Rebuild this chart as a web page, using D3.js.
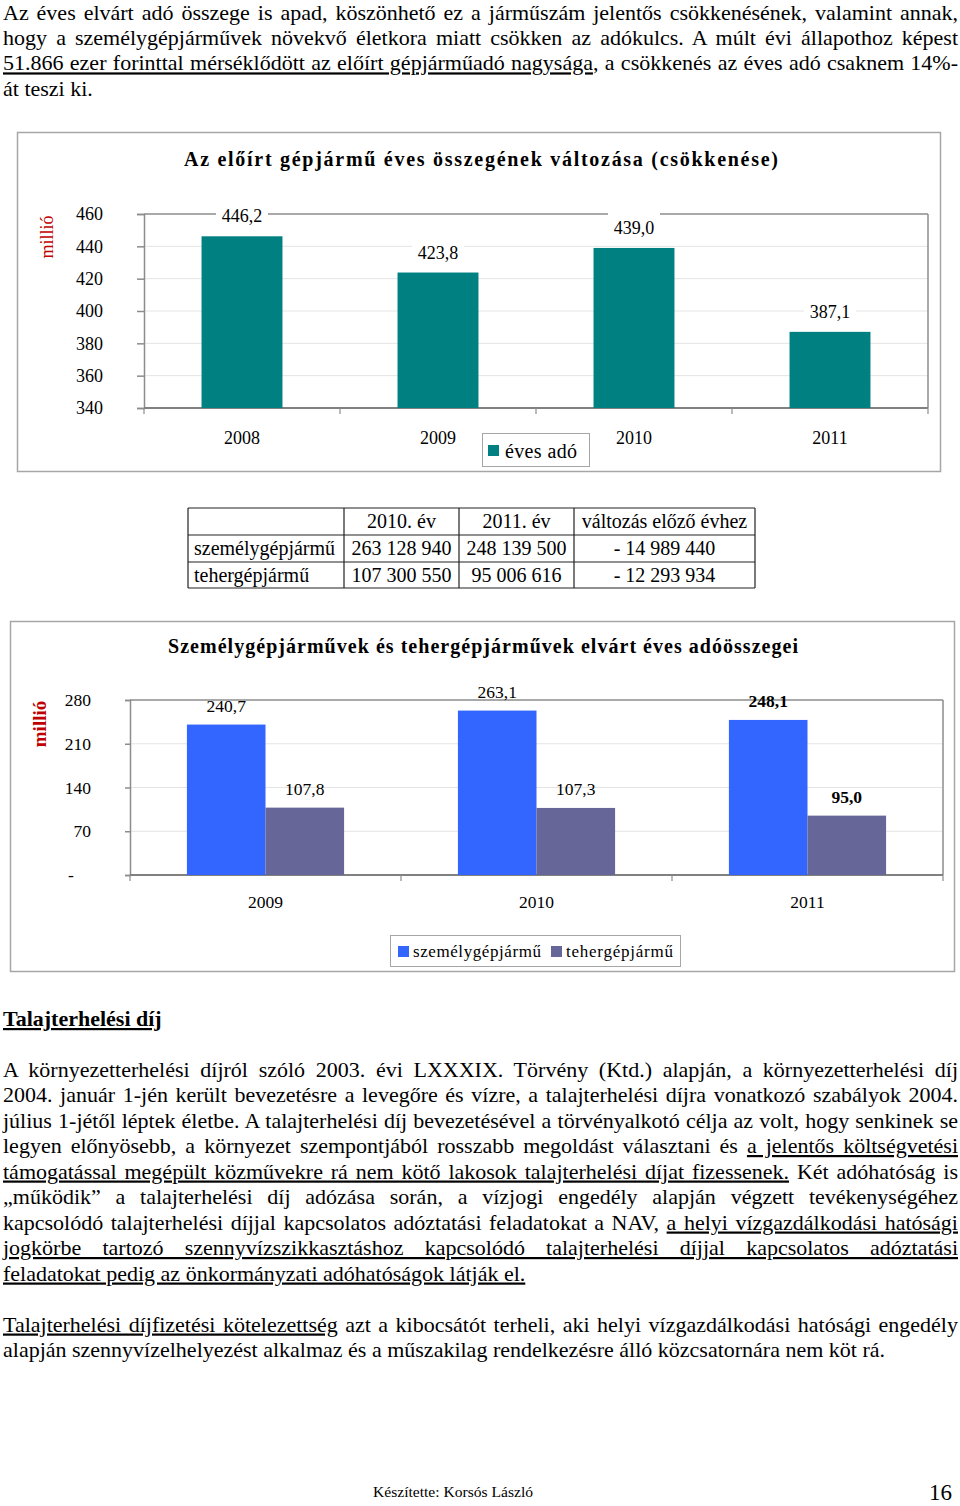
<!DOCTYPE html>
<html><head><meta charset="utf-8">
<script src="https://cdn.jsdelivr.net/npm/d3@7"></script>
<style>
html,body{margin:0;padding:0;background:#fff;}
svg{display:block;}
text{font-family:"Liberation Serif","Times New Roman",serif;fill:#000;white-space:pre;}
</style></head><body>
<svg id="page" width="960" height="1506"></svg>
<script>
// ---------- DATA ----------
const years1 = ["2008", "2009", "2010", "2011"];
const evesAdo = [446.2, 423.8, 439.0, 387.1];
const ticks1 = [340, 360, 380, 400, 420, 440, 460];
const legend1 = ["éves adó"];

const years2 = ["2009", "2010", "2011"];
const series2 = ["személygépjármű", "tehergépjármű"];
const szemely = [240.7, 263.1, 248.1];
const teher = [107.8, 107.3, 95.0];
const ticks2 = [0, 70, 140, 210, 280];
const tickLabels2 = ["-", "70", "140", "210", "280"];

const tableHead = ["", "2010. év", "2011. év", "változás előző évhez"];
const tableRowNames = ["személygépjármű", "tehergépjármű"];
const table2010 = ["263 128 940", "107 300 550"];
const table2011 = ["248 139 500", "95 006 616"];
const tableChange = ["- 14 989 440", "- 12 293 934"];

const title1 = "Az előírt gépjármű éves összegének változása (csökkenése)";
const title2 = "Személygépjárművek és tehergépjárművek elvárt éves adóösszegei";

// paragraph lines: [segments, justified]
const para1 = [
  [[["Az éves elvárt adó összege is apad, köszönhető ez a járműszám jelentős csökkenésének, valamint annak,", 0]], true],
  [[["hogy a személygépjárművek növekvő életkora miatt csökken az adókulcs. A múlt évi állapothoz képest", 0]], true],
  [[["51.866 ezer forinttal mérséklődött az előírt gépjárműadó nagysága", 1], [", a csökkenés az éves adó csaknem 14%-", 0]], true],
  [[["át teszi ki.", 0]], false]
];
const heading = "Talajterhelési díj";
const para2 = [
  [[["A környezetterhelési díjról szóló 2003. évi LXXXIX. Törvény (Ktd.) alapján, a környezetterhelési díj", 0]], true],
  [[["2004. január 1-jén került bevezetésre a levegőre és vízre, a talajterhelési díjra vonatkozó szabályok 2004.", 0]], true],
  [[["július 1-jétől léptek életbe. A talajterhelési díj bevezetésével a törvényalkotó célja az volt, hogy senkinek se", 0]], true],
  [[["legyen előnyösebb, a környezet szempontjából rosszabb megoldást választani és ", 0], ["a jelentős költségvetési", 1]], true],
  [[["támogatással megépült közművekre rá nem kötő lakosok talajterhelési díjat fizessenek.", 1], [" Két adóhatóság is", 0]], true],
  [[["„működik” a talajterhelési díj adózása során, a vízjogi engedély alapján végzett tevékenységéhez", 0]], true],
  [[["kapcsolódó talajterhelési díjjal kapcsolatos adóztatási feladatokat a NAV, ", 0], ["a helyi vízgazdálkodási hatósági", 1]], true],
  [[["jogkörbe tartozó szennyvízszikkasztáshoz kapcsolódó talajterhelési díjjal kapcsolatos adóztatási", 1]], true],
  [[["feladatokat pedig az önkormányzati adóhatóságok látják el.", 1]], false]
];
const para3 = [
  [[["Talajterhelési díjfizetési kötelezettség", 1], [" azt a kibocsátót terheli, aki helyi vízgazdálkodási hatósági engedély", 0]], true],
  [[["alapján szennyvízelhelyezést alkalmaz és a műszakilag rendelkezésre álló közcsatornára nem köt rá.", 0]], false]
];
const footerText = "Készítette: Korsós László";
const pageNo = "16";

// ---------- DRAW ----------
const svg = d3.select("#page");
const fmt = v => d3.format(".1f")(v).replace(".", ",");
const BODY = 22;

function bodyLine(x, y, segs, justify, width, size) {
  const t = svg.append("text").attr("x", x).attr("y", y).style("font-size", size + "px");
  segs.forEach(s => {
    const ts = t.append("tspan").text(s[0]);
    if (s[1]) ts.style("text-decoration", "underline");
  });
  if (justify) {
    const w = t.node().getComputedTextLength();
    const full = segs.map(s => s[0]).join("");
    const n = (full.match(/ /g) || []).length;
    if (n > 0) t.style("word-spacing", ((width - w) / n) + "px");
  }
  return t;
}
function paragraph(lines, x0, y0, lh) {
  lines.forEach((l, i) => bodyLine(x0, y0 + i * lh, l[0], l[1], 955, BODY));
}
paragraph(para1, 3, 19.8, 25.3);

// ---------- CHART 1 ----------
const c1 = svg.append("g");
c1.append("rect").attr("x", 17.5).attr("y", 132.5).attr("width", 923).attr("height", 339)
  .attr("fill", "#fff").attr("stroke", "#a6a6a6").attr("stroke-width", 1.5);
c1.append("text").attr("x", 184).attr("y", 166).attr("textLength", 594).attr("lengthAdjust", "spacing")
  .style("font-size", "20px").style("font-weight", "bold").text(title1);

const x1 = d3.scaleBand().domain(years1).range([144, 928]).paddingInner(0.587).paddingOuter(0.2935);
const y1 = d3.scaleLinear().domain([340, 460]).range([408, 214]);
const step1 = x1.step();

// gridlines
c1.append("g").selectAll("line").data(ticks1.slice(1, -1)).join("line")
  .attr("x1", 144).attr("x2", 928).attr("y1", d => y1(d)).attr("y2", d => y1(d))
  .attr("stroke", "#e4e4e4").attr("stroke-width", 1);
// frame top/right
c1.append("line").attr("x1", 144).attr("x2", 928).attr("y1", y1(460)).attr("y2", y1(460)).attr("stroke", "#8c8c8c").attr("stroke-width", 1.5);
c1.append("line").attr("x1", 928).attr("x2", 928).attr("y1", y1(460)).attr("y2", y1(340)).attr("stroke", "#8c8c8c").attr("stroke-width", 1.5);

const ax1 = c1.append("g").attr("transform", "translate(144,0)")
  .call(d3.axisLeft(y1).tickValues(ticks1).tickSize(7).tickPadding(34).tickFormat(d3.format("d")));
ax1.selectAll("path,line").attr("stroke", "#8c8c8c").attr("stroke-width", 1.5);
ax1.selectAll("text").style("font-size", "18px").attr("font-family", null).attr("fill", "#000");

// bottom axis
c1.append("line").attr("x1", 144).attr("x2", 928).attr("y1", y1(340)).attr("y2", y1(340)).attr("stroke", "#808080").attr("stroke-width", 2);
c1.append("g").selectAll("line").data(d3.range(years1.length + 1)).join("line")
  .attr("x1", i => x1.range()[0] + i * step1).attr("x2", i => x1.range()[0] + i * step1)
  .attr("y1", y1(340)).attr("y2", y1(340) + 6).attr("stroke", "#8c8c8c").attr("stroke-width", 1.2);
c1.append("g").selectAll("text").data(years1).join("text")
  .attr("x", d => x1(d) + x1.bandwidth() / 2).attr("y", 444).attr("text-anchor", "middle")
  .style("font-size", "18px").text(d => d);

// bars
c1.append("g").selectAll("rect").data(evesAdo).join("rect")
  .attr("x", (d, i) => x1(years1[i])).attr("width", x1.bandwidth())
  .attr("y", d => y1(d)).attr("height", d => y1(340) - y1(d)).attr("fill", "#008080");
// labels with white background
const lab1 = c1.append("g").selectAll("g").data(evesAdo).join("g")
  .attr("transform", (d, i) => `translate(${x1(years1[i]) + x1.bandwidth() / 2},${y1(d) - 20})`);
lab1.append("rect").attr("x", -26).attr("y", -17).attr("width", 52).attr("height", 29).attr("fill", "#fff");
lab1.append("text").attr("text-anchor", "middle").attr("y", 6).style("font-size", "18px").text(d => fmt(d));

// millió
c1.append("text").attr("transform", "translate(53,237) rotate(-90)").attr("text-anchor", "middle")
  .style("font-size", "18px").style("fill", "#c00000").text("millió");

// legend
c1.append("rect").attr("x", 482.5).attr("y", 433.5).attr("width", 107).attr("height", 33)
  .attr("fill", "#fff").attr("stroke", "#a6a6a6").attr("stroke-width", 1);
c1.append("rect").attr("x", 488).attr("y", 445).attr("width", 11).attr("height", 11).attr("fill", "#008080");
c1.append("text").attr("x", 505).attr("y", 458).attr("textLength", 72).attr("lengthAdjust", "spacing")
  .style("font-size", "20px").text(legend1[0]);

// ---------- TABLE ----------
const tb = svg.append("g");
const colX = [188, 344, 459, 574, 755];
const rowY = [508, 535, 562, 588];
rowY.forEach(y => tb.append("line").attr("x1", colX[0]).attr("x2", colX[4]).attr("y1", y).attr("y2", y).attr("stroke", "#222").attr("stroke-width", 1.2));
colX.forEach(x => tb.append("line").attr("x1", x).attr("x2", x).attr("y1", rowY[0]).attr("y2", rowY[3]).attr("stroke", "#222").attr("stroke-width", 1.2));
const tableRows = [tableHead].concat(tableRowNames.map((n, i) => [n, table2010[i], table2011[i], tableChange[i]]));
tableRows.forEach((row, r) => {
  row.forEach((cell, c) => {
    const y = rowY[r] + 20;
    if (c === 0) tb.append("text").attr("x", colX[0] + 6).attr("y", y).style("font-size", "20px").text(cell);
    else tb.append("text").attr("x", (colX[c] + colX[c + 1]) / 2).attr("y", y).attr("text-anchor", "middle").style("font-size", "20px").text(cell);
  });
});

// ---------- CHART 2 ----------
const c2 = svg.append("g");
c2.append("rect").attr("x", 10.5).attr("y", 621.5).attr("width", 944).attr("height", 350)
  .attr("fill", "#fff").attr("stroke", "#a6a6a6").attr("stroke-width", 1.5);
c2.append("text").attr("x", 168).attr("y", 653).attr("textLength", 630).attr("lengthAdjust", "spacing")
  .style("font-size", "20px").style("font-weight", "bold").text(title2);

const x2 = d3.scaleBand().domain(years2).range([130, 943]).paddingInner(0.42).paddingOuter(0.21);
const xs = d3.scaleBand().domain(series2).range([0, x2.bandwidth()]);
const y2 = d3.scaleLinear().domain([0, 280]).range([875, 700]);
const step2 = x2.step();
const colors2 = ["#3366ff", "#666699"];

c2.append("g").selectAll("line").data(ticks2.slice(1, -1)).join("line")
  .attr("x1", 130).attr("x2", 943).attr("y1", d => y2(d)).attr("y2", d => y2(d))
  .attr("stroke", "#e4e4e4").attr("stroke-width", 1);
c2.append("line").attr("x1", 130).attr("x2", 943).attr("y1", y2(280)).attr("y2", y2(280)).attr("stroke", "#8c8c8c").attr("stroke-width", 1.5);
c2.append("line").attr("x1", 943).attr("x2", 943).attr("y1", y2(280)).attr("y2", y2(0)).attr("stroke", "#8c8c8c").attr("stroke-width", 1.5);

const ax2 = c2.append("g").attr("transform", "translate(130,0)")
  .call(d3.axisLeft(y2).tickValues(ticks2).tickSize(5).tickPadding(34).tickFormat((d, i) => tickLabels2[i]));
ax2.selectAll("path,line").attr("stroke", "#8c8c8c").attr("stroke-width", 1.5);
ax2.selectAll("text").style("font-size", "17.5px").attr("font-family", null).attr("fill", "#000");
ax2.selectAll(".tick").filter(d => d === 0).select("text").attr("text-anchor", "middle").attr("x", -59);

c2.append("line").attr("x1", 130).attr("x2", 943).attr("y1", y2(0)).attr("y2", y2(0)).attr("stroke", "#808080").attr("stroke-width", 2);
c2.append("g").selectAll("line").data(d3.range(years2.length + 1)).join("line")
  .attr("x1", i => x2.range()[0] + i * step2).attr("x2", i => x2.range()[0] + i * step2)
  .attr("y1", y2(0)).attr("y2", y2(0) + 6).attr("stroke", "#8c8c8c").attr("stroke-width", 1.2);
c2.append("g").selectAll("text").data(years2).join("text")
  .attr("x", d => x2(d) + x2.bandwidth() / 2).attr("y", 908).attr("text-anchor", "middle")
  .style("font-size", "17.5px").text(d => d);

const seriesVals = [szemely, teher];
series2.forEach((s, si) => {
  const g = c2.append("g");
  g.selectAll("rect").data(seriesVals[si]).join("rect")
    .attr("x", (d, i) => x2(years2[i]) + xs(s)).attr("width", xs.bandwidth())
    .attr("y", d => y2(d)).attr("height", d => y2(0) - y2(d)).attr("fill", colors2[si]);
  g.selectAll("text").data(seriesVals[si]).join("text")
    .attr("x", (d, i) => x2(years2[i]) + xs(s) + xs.bandwidth() / 2).attr("y", d => y2(d) - 13)
    .attr("text-anchor", "middle").style("font-size", "17.5px")
    .style("font-weight", (d, i) => i === years2.length - 1 ? "bold" : "normal")
    .text(d => fmt(d));
});

c2.append("text").attr("transform", "translate(46,724) rotate(-90)").attr("text-anchor", "middle")
  .style("font-size", "19px").style("font-weight", "bold").style("fill", "#c00000").text("millió");

// legend 2
c2.append("rect").attr("x", 390.5).attr("y", 935.5).attr("width", 290).attr("height", 31)
  .attr("fill", "#fff").attr("stroke", "#a6a6a6").attr("stroke-width", 1);
const legX = [398, 551];
const legW = [128, 107];
series2.forEach((s, si) => {
  c2.append("rect").attr("x", legX[si]).attr("y", 946).attr("width", 11).attr("height", 11).attr("fill", colors2[si]);
  c2.append("text").attr("x", legX[si] + 15).attr("y", 957).attr("textLength", legW[si]).attr("lengthAdjust", "spacing")
    .style("font-size", "17px").text(s);
});

// ---------- LOWER TEXT ----------
svg.append("text").attr("x", 3).attr("y", 1026).style("font-size", BODY + "px").style("font-weight", "bold")
  .style("text-decoration", "underline").text(heading);
paragraph(para2, 3, 1076.5, 25.5);
paragraph(para3, 3, 1331.5, 25.5);

// footer
svg.append("text").attr("x", 373).attr("y", 1497).attr("textLength", 160).attr("lengthAdjust", "spacingAndGlyphs")
  .style("font-size", "15px").text(footerText);
svg.append("text").attr("x", 952).attr("y", 1500).attr("text-anchor", "end").style("font-size", "23px").text(pageNo);
</script>
</body></html>
